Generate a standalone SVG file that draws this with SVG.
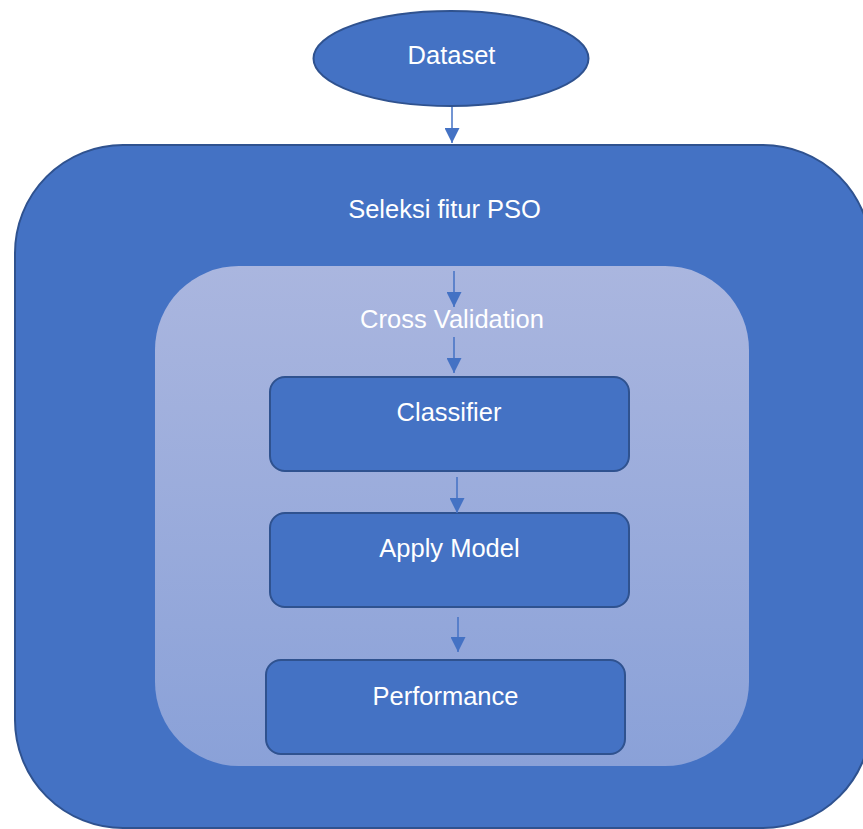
<svg xmlns="http://www.w3.org/2000/svg" width="863" height="829" viewBox="0 0 863 829">
  <style>
    .shape { fill: #4472C4; stroke: #2F528F; stroke-width: 2; }
    .label { font-family: "Liberation Sans", Arial, sans-serif; font-size: 25.5px; fill: #FFFFFF; text-anchor: middle; }
    .conn { stroke: #4472C4; stroke-width: 1.5; fill: none; }
  </style>
  <defs>
    <linearGradient id="cvFill" x1="0" y1="0" x2="0" y2="1">
      <stop offset="0" stop-color="#AAB6DF"/>
      <stop offset="1" stop-color="#8AA1D8"/>
    </linearGradient>
    <marker id="head" markerWidth="15" markerHeight="15" viewBox="0 0 15 15" refX="15" refY="7.5" orient="auto" markerUnits="userSpaceOnUse">
      <path d="M0,0 L15,7.5 L0,15 Z" fill="#4472C4"/>
    </marker>
  </defs>
  <rect width="863" height="829" fill="#FFFFFF"/>

  <g id="dataset">
    <ellipse class="shape" cx="451" cy="58.5" rx="137.5" ry="47.5"/>
    <text class="label" x="451.5" y="64">Dataset</text>
  </g>

  <g id="seleksi-fitur-pso">
    <rect class="shape" x="15" y="145" width="856" height="683" rx="108" ry="108"/>
    <text class="label" x="444.5" y="218">Seleksi fitur PSO</text>
  </g>

  <g id="cross-validation">
    <rect x="155" y="266" width="594" height="500" rx="84" ry="84" fill="url(#cvFill)"/>
    <text class="label" x="452" y="328">Cross Validation</text>
  </g>

  <g id="classifier">
    <rect class="shape" x="270" y="377" width="359" height="94" rx="15" ry="15"/>
    <text class="label" x="449" y="421">Classifier</text>
  </g>

  <g id="apply-model">
    <rect class="shape" x="270" y="513" width="359" height="94" rx="15" ry="15"/>
    <text class="label" x="449.5" y="557">Apply Model</text>
  </g>

  <g id="performance">
    <rect class="shape" x="266" y="660" width="359" height="94" rx="15" ry="15"/>
    <text class="label" x="445.5" y="705">Performance</text>
  </g>

  <g id="connectors">
    <line class="conn" x1="452" y1="107" x2="452" y2="143" marker-end="url(#head)"/>
    <line class="conn" x1="454" y1="271" x2="454" y2="307" marker-end="url(#head)"/>
    <line class="conn" x1="454" y1="337" x2="454" y2="373" marker-end="url(#head)"/>
    <line class="conn" x1="457" y1="477" x2="457" y2="513" marker-end="url(#head)"/>
    <line class="conn" x1="458" y1="617" x2="458" y2="652" marker-end="url(#head)"/>
  </g>
</svg>
